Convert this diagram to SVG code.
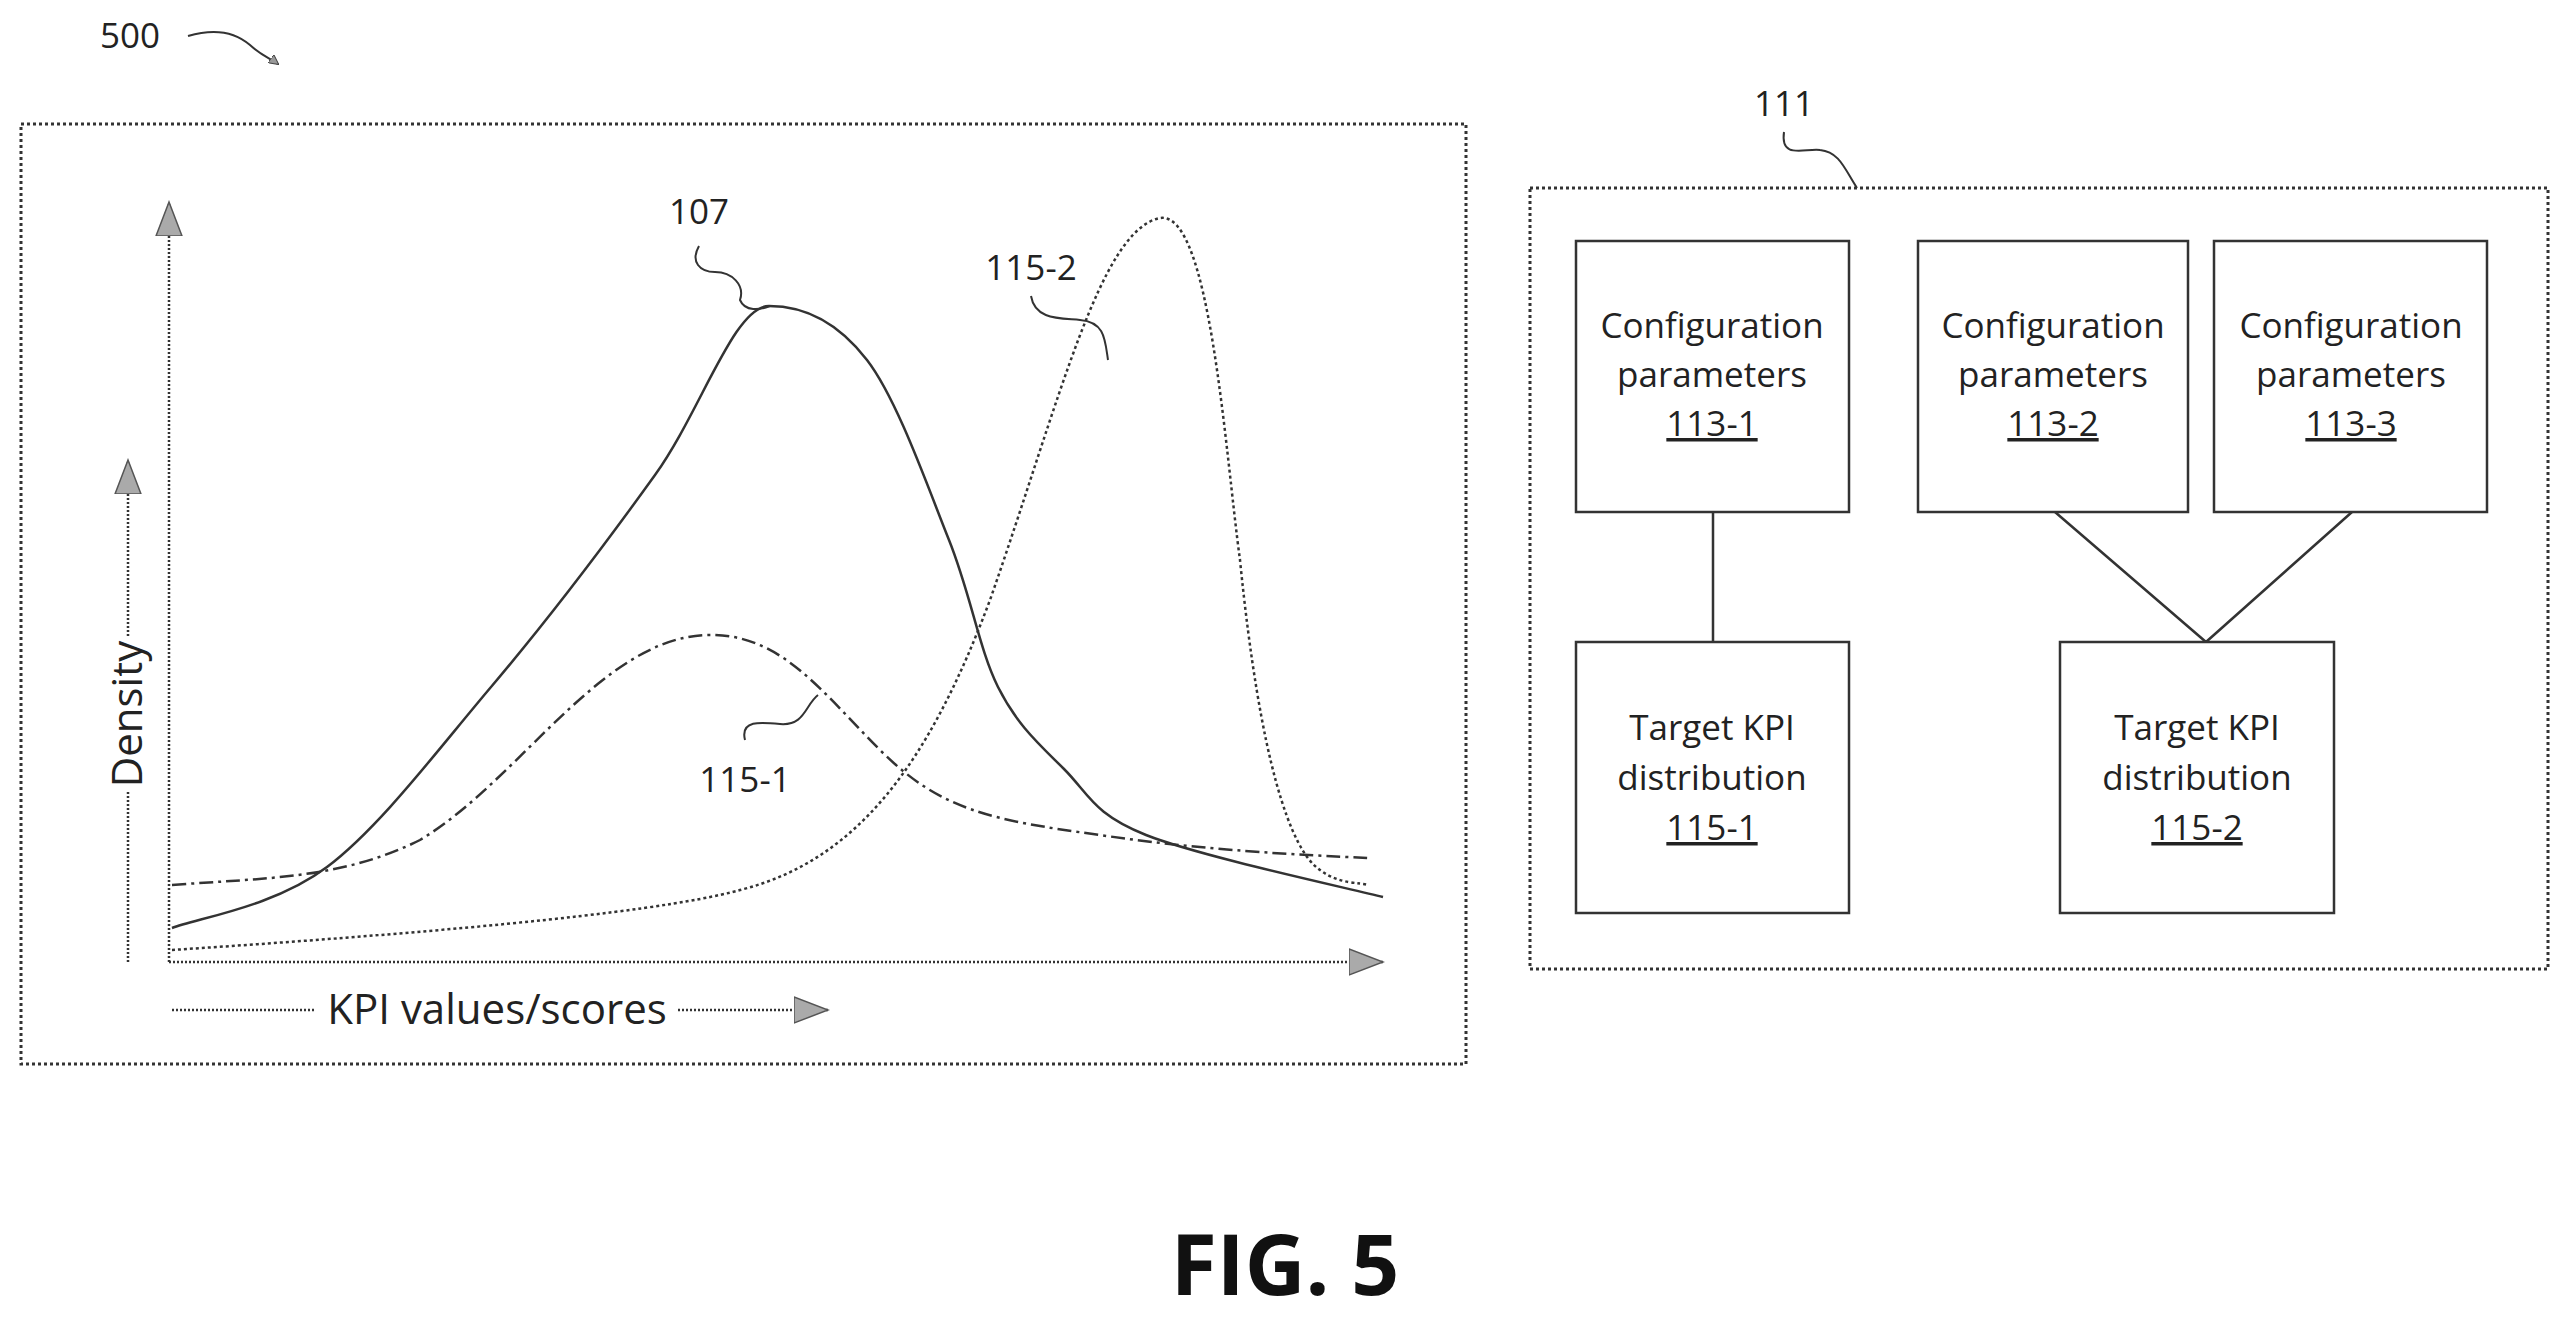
<svg xmlns="http://www.w3.org/2000/svg" width="2566" height="1322" viewBox="0 0 2566 1322">
<style>
text{font-family:"Open Sans","Liberation Sans",sans-serif;font-size:35px;fill:#222}
.frame{fill:none;stroke:#333;stroke-width:3;stroke-dasharray:3 3}
.box{fill:#fff;stroke:#333;stroke-width:2.5}
.ln{fill:none;stroke:#333;stroke-width:2.5}
.sq{fill:none;stroke:#333;stroke-width:2}
.ax{font-size:42px}
</style>
<defs>
<marker id="ah" markerWidth="10" markerHeight="10" refX="9" refY="5" orient="auto" markerUnits="userSpaceOnUse" viewBox="0 0 10 10"><path d="M0,0 L10,5 L0,10 Z" fill="#999" stroke="#444" stroke-width="1"/></marker>
<marker id="big" markerWidth="36" markerHeight="30" refX="34" refY="15" orient="auto" markerUnits="userSpaceOnUse"><path d="M0,2 L34,15 L0,28 Z" fill="#aaa" stroke="#555" stroke-width="1.5"/></marker>
</defs>
<g id="label500"><text x="100" y="48">500</text><path class="sq" d="M188,36 C215,28 235,32 250,45 C262,56 270,58 278,64" marker-end="url(#ah)"/></g>
<g id="chart">
<rect class="frame" x="21" y="124" width="1445" height="940"/>
<g id="connectors">
<path class="ln" d="M169,962 L169,202" stroke-dasharray="2 2" marker-end="url(#big)"/>
<path class="ln" d="M169,962 L1383,962" stroke-dasharray="2 2" marker-end="url(#big)"/>
<path class="ln" d="M128,962 L128,792 M128,636 L128,460" stroke-dasharray="2 2" marker-end="url(#big)"/>
<path class="ln" d="M172,1010 L316,1010 M678,1010 L828,1010" stroke-dasharray="2 2" marker-end="url(#big)"/>
</g>
<text class="ax" transform="translate(142,714) rotate(-90)" text-anchor="middle">Density</text>
<text class="ax" x="497" y="1024" text-anchor="middle">KPI values/scores</text>
<path id="c107" class="ln" d="M172,928 C198,918 274,907 327,867 C380,827 436,752 491,687 C546,622 609,539 655,475 C701,411 734,306 769,306 C804,306 837,321 867,360 C897,399 927,485 949,540 C971,595 979,649 998,687 C1017,725 1039,744 1064,769 C1089,794 1093,814 1146,835 C1199,856 1343,887 1383,897"/>
<path id="c1152" class="ln" stroke-dasharray="3 3" d="M172,950 C400,935 650,915 740,890 C860,860 930,760 990,600 C1060,400 1100,230 1160,218 C1210,210 1225,450 1240,560 C1260,760 1290,850 1320,870 C1340,885 1360,882 1368,885"/>
<path id="c1151" class="ln" stroke-dasharray="14 5 3 5" d="M172,885 C260,878 340,880 420,840 C520,780 600,640 705,635 C780,632 820,690 880,750 C940,810 990,820 1100,835 C1200,850 1300,855 1368,858"/>
<text x="699" y="224" text-anchor="middle">107</text>
<path class="sq" d="M699,246 C690,262 700,272 715,272 C732,272 745,285 740,300 C745,312 760,310 770,306"/>
<text x="1031" y="280" text-anchor="middle">115-2</text>
<path class="sq" d="M1031,296 C1035,320 1060,318 1080,320 C1105,322 1105,340 1108,360"/>
<text x="745" y="792" text-anchor="middle">115-1</text>
<path class="sq" d="M745,740 C740,720 760,722 780,724 C805,726 805,705 818,695"/>
</g>
<g id="label111"><text x="1784" y="116" text-anchor="middle">111</text><path class="sq" d="M1784,132 C1780,160 1805,148 1820,150 C1840,152 1845,170 1857,188"/></g>
<rect class="frame" x="1530" y="188" width="1018" height="781"/>
<g id="edges">
<path class="ln" d="M1713,512 L1713,642 M2055,512 L2206,642 L2352,512"/>
</g>
<g id="n113-1"><rect class="box" x="1576" y="241" width="273" height="271"/>
<text x="1712" y="338" text-anchor="middle">Configuration</text><text x="1712" y="387" text-anchor="middle">parameters</text><text x="1712" y="436" text-anchor="middle" text-decoration="underline">113-1</text></g>
<g id="n113-2"><rect class="box" x="1918" y="241" width="270" height="271"/>
<text x="2053" y="338" text-anchor="middle">Configuration</text><text x="2053" y="387" text-anchor="middle">parameters</text><text x="2053" y="436" text-anchor="middle" text-decoration="underline">113-2</text></g>
<g id="n113-3"><rect class="box" x="2214" y="241" width="273" height="271"/>
<text x="2351" y="338" text-anchor="middle">Configuration</text><text x="2351" y="387" text-anchor="middle">parameters</text><text x="2351" y="436" text-anchor="middle" text-decoration="underline">113-3</text></g>
<g id="n115-1"><rect class="box" x="1576" y="642" width="273" height="271"/>
<text x="1712" y="740" text-anchor="middle">Target KPI</text><text x="1712" y="790" text-anchor="middle">distribution</text><text x="1712" y="840" text-anchor="middle" text-decoration="underline">115-1</text></g>
<g id="n115-2"><rect class="box" x="2060" y="642" width="274" height="271"/>
<text x="2197" y="740" text-anchor="middle">Target KPI</text><text x="2197" y="790" text-anchor="middle">distribution</text><text x="2197" y="840" text-anchor="middle" text-decoration="underline">115-2</text></g>
<text x="1285" y="1295" text-anchor="middle" style="font-size:84px;font-weight:bold;fill:#111">FIG. 5</text>
</svg>
